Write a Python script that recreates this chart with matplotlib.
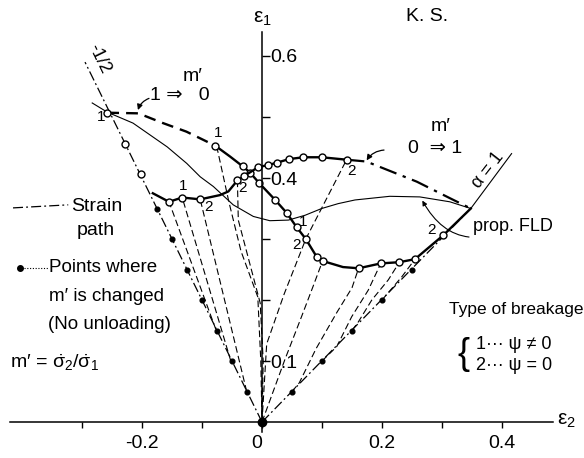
import numpy as np
import matplotlib.pyplot as plt

plt.rcParams['font.family'] = ['Liberation Sans', 'DejaVu Sans']
plt.rcParams['mathtext.default'] = 'regular'

# proportional strain paths (alpha = -1/2 and alpha = 1)
half_e2 = [0.0, -0.295]
half_e1 = [0.0, 0.59]
equi_e2 = [0.0, 0.348]
equi_e1 = [0.0, 0.35]

# points where m' is changed
half_dot_e2 = [-0.025, -0.05, -0.075, -0.10, -0.125, -0.15, -0.175]
half_dot_e1 = [0.05, 0.10, 0.15, 0.20, 0.25, 0.30, 0.35]
equi_dot_e2 = [0.05, 0.10, 0.15, 0.20, 0.25]
equi_dot_e1 = [0.05, 0.10, 0.15, 0.20, 0.25]

# limit points on the alpha = -1/2 path
half_lim_e2 = [-0.258, -0.228, -0.202]
half_lim_e1 = [0.507, 0.456, 0.407]

# m' 1 -> 0 : estimated part and computed limit strains
a_guess_e2 = [-0.258, -0.206, -0.165, -0.126, -0.103, -0.078]
a_guess_e1 = [0.507, 0.506, 0.490, 0.476, 0.465, 0.453]
a_e2 = [-0.078, -0.053, -0.032, -0.020, -0.005, 0.022, 0.041, 0.058, 0.073,
        0.091, 0.101, 0.135, 0.161, 0.198, 0.229, 0.255, 0.302, 0.348]
a_e1 = [0.453, 0.435, 0.419, 0.409, 0.392, 0.364, 0.343, 0.319, 0.300,
        0.271, 0.264, 0.254, 0.252, 0.260, 0.262, 0.267, 0.306, 0.350]
a_marks = [0, 2, 3, 4, 5, 6, 7, 8, 9, 10, 12, 13, 14, 15, 16]

# m' 0 -> 1
b_e2 = [-0.182, -0.155, -0.133, -0.103, -0.070, -0.056, -0.041, -0.030,
        -0.006, 0.0095, 0.0245, 0.045, 0.069, 0.0995, 0.141]
b_e1 = [0.375, 0.361, 0.368, 0.365, 0.372, 0.378, 0.396, 0.403,
        0.418, 0.421, 0.425, 0.431, 0.434, 0.434, 0.430]
b_marks = [1, 2, 3, 6, 7, 8, 9, 10, 11, 12, 13, 14]
b_guess_e2 = [0.141, 0.174, 0.202, 0.258, 0.313, 0.348]
b_guess_e1 = [0.430, 0.427, 0.416, 0.394, 0.367, 0.350]

# proportional FLD
fld_e2 = [-0.283, -0.258, -0.215, -0.158, -0.1255, -0.103, -0.081, -0.048,
          -0.0145, 0.013, 0.044, 0.072, 0.0995, 0.127, 0.155, 0.213, 0.263,
          0.313, 0.348]
fld_e1 = [0.523, 0.508, 0.490, 0.451, 0.424, 0.402, 0.386, 0.356,
          0.337, 0.330, 0.331, 0.339, 0.350, 0.358, 0.364, 0.370, 0.369,
          0.361, 0.350]

# strain paths after the change of m'
paths = {
    'p1': ([-0.077, -0.155], [0.152, 0.361]),
    'p2': ([-0.052, -0.133], [0.10, 0.368]),
    'p3': ([-0.0255, -0.103], [0.05, 0.365]),
    'r1': ([-0.0755, -0.055, -0.035, -0.007, -0.002, 0.0], [0.452, 0.36, 0.28, 0.205, 0.10, 0.0]),
    'r2': ([-0.041, -0.0395, -0.003, 0.002, 0.0], [0.396, 0.331, 0.195, 0.10, 0.0]),
    's0': ([0.0, 0.0078, 0.037, 0.073, 0.141], [0.0, 0.128, 0.21, 0.300, 0.430]),
    'q0': ([0.0, 0.038, 0.066, 0.085, 0.101], [0.0, 0.102, 0.173, 0.222, 0.264]),
    'q1': ([0.05, 0.062, 0.09, 0.125, 0.15, 0.161], [0.05, 0.064, 0.12, 0.18, 0.22, 0.252]),
    'q2': ([0.10, 0.1245, 0.1495, 0.177, 0.198], [0.10, 0.1235, 0.1726, 0.216, 0.260]),
    'q3': ([0.15, 0.1605, 0.183, 0.2105, 0.229], [0.15, 0.164, 0.20, 0.233, 0.262]),
    'q4': ([0.20, 0.233, 0.255], [0.20, 0.238, 0.267]),
}

fig = plt.figure(figsize=(5.84, 4.58), dpi=100)
ax = fig.add_axes([0, 0, 1, 1])
ax.set_xlim(-0.4367, 0.5367)
ax.set_ylim(-0.059, 0.6918)

for s in ['top', 'right']:
    ax.spines[s].set_visible(False)
ax.spines['left'].set_position(('data', 0))
ax.spines['bottom'].set_position(('data', 0))
ax.spines['left'].set_bounds(-0.016, 0.64)
ax.spines['bottom'].set_bounds(-0.42, 0.485)
ax.spines['left'].set_linewidth(1.1)
ax.spines['bottom'].set_linewidth(1.1)

ax.set_xticks([-0.3, -0.2, -0.1, 0.0, 0.1, 0.2, 0.3, 0.4])
ax.set_xticklabels(['', '-0.2', '', '0', '', '0.2', '', '0.4'], fontsize=14)
ax.tick_params(axis='x', direction='out', length=4, width=1, pad=5)
for lbl in ax.get_xticklabels():
    if lbl.get_text() == '0':
        lbl.set_horizontalalignment('right')
ax.set_yticks([0.1, 0.2, 0.3, 0.4, 0.5, 0.6])
ax.set_yticklabels(['0.1', '', '', '0.4', '', '0.6'], fontsize=14)
ax.tick_params(axis='y', direction='in', length=6, width=1, pad=-6)
for lbl in ax.get_yticklabels():
    lbl.set_horizontalalignment('left')

ax.text(0.0, 0.662, r'$\varepsilon_1$', fontsize=15, ha='center', va='center')
ax.text(0.507, 0.002, r'$\varepsilon_2$', fontsize=15, ha='center', va='center')
ax.text(0.275, 0.664, 'K. S.', fontsize=14, ha='center', va='center')

dashdot = (0, (8, 2.5, 1.5, 2.5))
ax.plot(half_e2, half_e1, color='k', lw=0.9, ls=dashdot)
ax.plot(equi_e2, equi_e1, color='k', lw=0.9, ls=dashdot)
ax.plot([0.348, 0.416], [0.35, 0.44], color='k', lw=0.8)
ax.text(0.377, 0.413, 'α = 1', rotation=52, fontsize=13, ha='center', va='center')
ax.text(-0.272, 0.596, '-1/2', rotation=-64, fontsize=13, ha='center', va='center')

# strain paths
for e2, e1 in paths.values():
    ax.plot(e2, e1, color='k', lw=0.8, ls=(0, (6, 3)))

# proportional FLD
ax.plot(fld_e2, fld_e1, color='k', lw=0.8)

# limit strain curves
ax.plot(a_guess_e2, a_guess_e1, color='k', lw=1.7, ls=(0, (5, 3)))
ax.plot(a_e2, a_e1, color='k', lw=1.7, marker='o', markevery=a_marks,
        ms=5, mfc='white', mec='k', mew=1.0)
ax.plot(b_guess_e2, b_guess_e1, color='k', lw=1.6, ls=(0, (8, 3, 1.5, 3)))
ax.plot(b_e2, b_e1, color='k', lw=1.7, marker='o', markevery=b_marks,
        ms=5, mfc='white', mec='k', mew=1.0)
ax.plot(half_lim_e2, half_lim_e1, ls='none', marker='o', ms=5,
        mfc='white', mec='k', mew=1.0)

ax.plot(half_dot_e2, half_dot_e1, ls='none', marker='o', ms=3.4, color='k')
ax.plot(equi_dot_e2, equi_dot_e1, ls='none', marker='o', ms=3.4, color='k')
ax.plot([0.0], [0.0], ls='none', marker='o', ms=6, color='k')

# breakage type labels
break_labels = [
    ('1', -0.268, 0.500), ('1', -0.073, 0.474), ('1', -0.132, 0.387),
    ('2', -0.090, 0.352), ('2', -0.032, 0.384), ('1', 0.068, 0.328),
    ('2', 0.058, 0.290), ('2', 0.150, 0.411), ('2', 0.283, 0.315),
]
for t, x, y in break_labels:
    ax.text(x, y, t, fontsize=11, ha='center', va='center')

# m' change annotations
ax.text(-0.115, 0.566, 'm′', fontsize=14, ha='center', va='center')
ax.text(-0.186, 0.536, '1 ⇒   0', fontsize=14, ha='left', va='center')
ax.annotate('', xy=(-0.208, 0.507), xytext=(-0.184, 0.532),
            arrowprops=dict(arrowstyle='-|>', color='k', lw=0.9,
                            mutation_scale=8, connectionstyle='arc3,rad=0.3'))
ax.text(0.297, 0.484, 'm′', fontsize=14, ha='center', va='center')
ax.text(0.243, 0.448, '0  ⇒ 1', fontsize=14, ha='left', va='center')
ax.annotate('', xy=(0.172, 0.425), xytext=(0.208, 0.446),
            arrowprops=dict(arrowstyle='-|>', color='k', lw=0.9,
                            mutation_scale=8, connectionstyle='arc3,rad=0.3'))

ax.annotate('prop. FLD', xy=(0.265, 0.367), xytext=(0.352, 0.321),
            fontsize=13, ha='left', va='center',
            arrowprops=dict(arrowstyle='-|>', color='k', lw=0.8,
                            mutation_scale=7, shrinkA=1,
                            connectionstyle='arc3,rad=-0.5'))

# left-hand legend
ax.plot([-0.415, -0.323], [0.351, 0.356], color='k', lw=0.9, ls=dashdot)
ax.text(-0.318, 0.354, 'Strain', fontsize=14, ha='left', va='center')
ax.text(-0.309, 0.314, 'path', fontsize=14, ha='left', va='center')
ax.plot([-0.403], [0.252], marker='o', ms=4, color='k')
ax.plot([-0.397, -0.357], [0.252, 0.252], color='k', lw=0.8, ls=(0, (1, 1.5)))
ax.text(-0.355, 0.253, 'Points where', fontsize=13.5, ha='left', va='center')
ax.text(-0.355, 0.206, 'm′ is changed', fontsize=13.5, ha='left', va='center')
ax.text(-0.357, 0.160, '(No unloading)', fontsize=13.5, ha='left', va='center')
ax.text(-0.42, 0.098, r"m′ = $\dot{\sigma}_2/\dot{\sigma}_1$", fontsize=14,
        ha='left', va='center')

ax.text(0.312, 0.184, 'Type of breakage', fontsize=12.5, ha='left', va='center')
ax.text(0.336, 0.110, '{', fontsize=26, ha='center', va='center')
ax.text(0.357, 0.127, '1··· ψ ≠ 0', fontsize=13, ha='left', va='center')
ax.text(0.357, 0.092, '2··· ψ = 0', fontsize=13, ha='left', va='center')

fig.savefig('out.png', dpi=100)
